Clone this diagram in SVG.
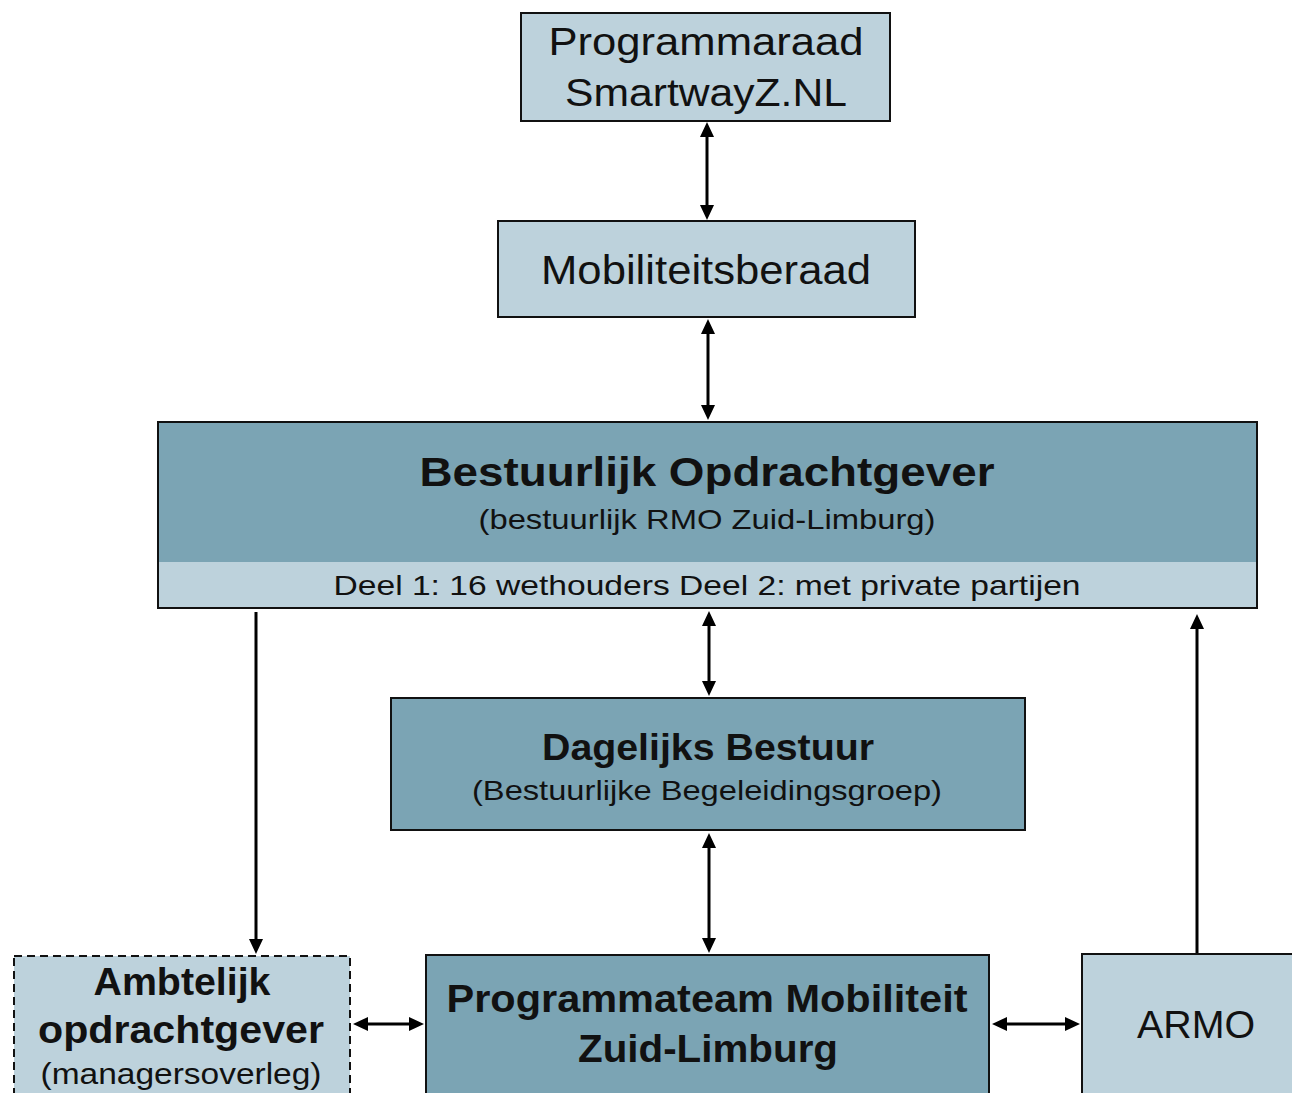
<svg xmlns="http://www.w3.org/2000/svg" width="1292" height="1093" viewBox="0 0 1292 1093">
<style>
.light{fill:#bdd2dc;stroke:#111;stroke-width:2}
.dark{fill:#7ba4b4;stroke:#111;stroke-width:2}
.dash{fill:#bdd2dc;stroke:#111;stroke-width:2;stroke-dasharray:8 5}
text{font-family:"Liberation Sans",Arial,sans-serif;fill:#111;text-anchor:middle}
.b{font-weight:bold}
.c line{stroke:#000;stroke-width:3}
</style>
<defs>
<marker id="ah" viewBox="0 0 15 14" refX="5" refY="7" markerWidth="15" markerHeight="14" markerUnits="userSpaceOnUse" orient="auto-start-reverse">
<path d="M0,0 L15,7 L0,14 z" fill="#000"/>
</marker>
</defs>
<g id="programmaraad">
<rect class="light" x="521" y="13" width="369" height="108"/>
<text x="706" y="55" font-size="38" textLength="315" lengthAdjust="spacingAndGlyphs">Programmaraad</text>
<text x="706" y="106" font-size="38" textLength="282" lengthAdjust="spacingAndGlyphs">SmartwayZ.NL</text>
</g>
<g id="mobiliteitsberaad">
<rect class="light" x="498" y="221" width="417" height="96"/>
<text x="706" y="284" font-size="40" textLength="330" lengthAdjust="spacingAndGlyphs">Mobiliteitsberaad</text>
</g>
<g id="bestuurlijk">
<rect x="158" y="422" width="1099" height="186" fill="#7ba4b4"/>
<rect x="158" y="562" width="1099" height="46" fill="#bdd2dc"/>
<rect x="158" y="422" width="1099" height="186" fill="none" stroke="#111" stroke-width="2"/>
<text class="b" x="707" y="486" font-size="40" textLength="575" lengthAdjust="spacingAndGlyphs">Bestuurlijk Opdrachtgever</text>
<text x="707" y="529" font-size="28" textLength="457" lengthAdjust="spacingAndGlyphs">(bestuurlijk RMO Zuid-Limburg)</text>
<text x="707" y="595" font-size="28" textLength="747" lengthAdjust="spacingAndGlyphs">Deel 1: 16 wethouders Deel 2: met private partijen</text>
</g>
<g id="dagelijks">
<rect class="dark" x="391" y="698" width="634" height="132"/>
<text class="b" x="708" y="760" font-size="36" textLength="332" lengthAdjust="spacingAndGlyphs">Dagelijks Bestuur</text>
<text x="707" y="800" font-size="28" textLength="470" lengthAdjust="spacingAndGlyphs">(Bestuurlijke Begeleidingsgroep)</text>
</g>
<g id="programmateam">
<rect class="dark" x="426" y="955" width="563" height="150"/>
<text class="b" x="707" y="1012" font-size="38" textLength="521" lengthAdjust="spacingAndGlyphs">Programmateam Mobiliteit</text>
<text class="b" x="708" y="1062" font-size="38" textLength="260" lengthAdjust="spacingAndGlyphs">Zuid-Limburg</text>
</g>
<g id="armo">
<rect class="light" x="1082" y="954" width="220" height="150"/>
<text x="1196" y="1038" font-size="38" textLength="118" lengthAdjust="spacingAndGlyphs">ARMO</text>
</g>
<g id="ambtelijk">
<rect class="dash" x="14" y="956" width="336" height="150"/>
<text class="b" x="182" y="995" font-size="38" textLength="177" lengthAdjust="spacingAndGlyphs">Ambtelijk</text>
<text class="b" x="181" y="1043" font-size="38" textLength="286" lengthAdjust="spacingAndGlyphs">opdrachtgever</text>
<text x="181" y="1084" font-size="30" textLength="281" lengthAdjust="spacingAndGlyphs">(managersoverleg)</text>
</g>
<g id="connectors" class="c">
<line x1="707" y1="132" x2="707" y2="210" marker-start="url(#ah)" marker-end="url(#ah)"/>
<line x1="708" y1="329" x2="708" y2="410" marker-start="url(#ah)" marker-end="url(#ah)"/>
<line x1="709" y1="621" x2="709" y2="686" marker-start="url(#ah)" marker-end="url(#ah)"/>
<line x1="709" y1="843" x2="709" y2="943" marker-start="url(#ah)" marker-end="url(#ah)"/>
<line x1="256" y1="612" x2="256" y2="944" marker-end="url(#ah)"/>
<line x1="1197" y1="953" x2="1197" y2="624" marker-end="url(#ah)"/>
<line x1="363" y1="1024" x2="414" y2="1024" marker-start="url(#ah)" marker-end="url(#ah)"/>
<line x1="1002" y1="1024" x2="1070" y2="1024" marker-start="url(#ah)" marker-end="url(#ah)"/>
</g>
</svg>
